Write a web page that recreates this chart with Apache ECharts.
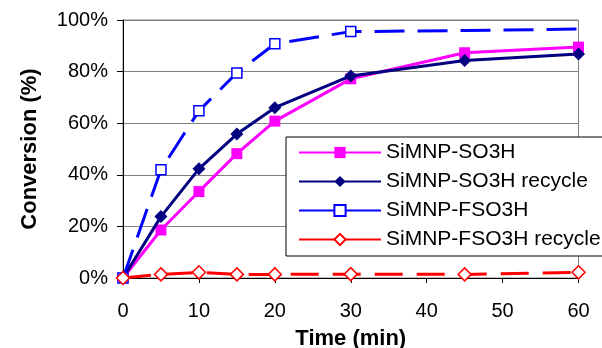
<!DOCTYPE html>
<html>
<head>
<meta charset="utf-8">
<script src="https://cdn.jsdelivr.net/npm/echarts@6/dist/echarts.min.js"></script>
<style>html,body{margin:0;padding:0;background:#fff;}#c{width:602px;height:348px;}</style>
</head>
<body>
<div id="c"></div>
<script>
var times = [0, 5, 10, 15, 20, 30, 45, 60];
var seriesNames = ['SiMNP-SO3H', 'SiMNP-SO3H recycle', 'SiMNP-FSO3H', 'SiMNP-FSO3H recycle'];
var so3h = [0, 18.6, 33.5, 48.2, 60.8, 77.2, 87.3, 89.5];
var so3hRecycle = [0, 23.8, 42.3, 55.8, 66.0, 78.3, 84.3, 86.8];
var fso3h = [0, 42.0, 64.8, 79.5, 90.8, 95.5, 95.9, 96.5];
var fso3hMarker = [true, true, true, true, true, true, false, false];
var fso3hRecycle = [0, 1.4, 2.2, 1.4, 1.4, 1.5, 1.4, 2.2];
var yTicks = [0, 20, 40, 60, 80, 100];
var xTicks = [0, 10, 20, 30, 40, 50, 60];

function pairs(vals, marks) {
  return times.map(function (t, i) {
    var d = { value: [t, vals[i]] };
    if (marks && !marks[i]) d.symbol = 'none';
    return d;
  });
}
var font = 'Liberation Sans, Arial, sans-serif';
var chart = echarts.init(document.getElementById('c'), null, { renderer: 'canvas' });
chart.setOption({
  animation: false,
  backgroundColor: '#fff',
  textStyle: { fontFamily: font },
  grid: { left: 123, right: 23.5, top: 20, bottom: 70, show: true, borderColor: '#808080', borderWidth: 1,
          containLabel: false, outerBoundsMode: 'none' },
  xAxis: {
    type: 'value', min: xTicks[0], max: xTicks[xTicks.length - 1], interval: 10,
    name: 'Time (min)', nameLocation: 'middle', nameGap: 50,
    nameTextStyle: { fontSize: 22, fontWeight: 'bold', color: '#000', fontFamily: font },
    axisLine: { lineStyle: { color: '#000', width: 1 } },
    axisTick: { show: true, length: 5, lineStyle: { color: '#000' } },
    axisLabel: { fontSize: 20, color: '#000', margin: 23, fontFamily: font },
    splitLine: { show: false }
  },
  yAxis: {
    type: 'value', min: yTicks[0], max: yTicks[yTicks.length - 1], interval: 20,
    name: 'Conversion (%)', nameLocation: 'middle', nameGap: 82, nameRotate: 90,
    nameTextStyle: { fontSize: 22, fontWeight: 'bold', color: '#000', fontFamily: font },
    axisLine: { show: true, lineStyle: { color: '#000', width: 1 } },
    axisTick: { show: true, length: 6, lineStyle: { color: '#000' } },
    axisLabel: { fontSize: 20, color: '#000', margin: 15, formatter: '{value}%', fontFamily: font },
    splitLine: { show: true, lineStyle: { color: '#808080', width: 1 } }
  },
  legend: {
    orient: 'vertical', left: 286, top: 137,
    padding: [5, 60, 6, 12], itemGap: 8, itemWidth: 82, itemHeight: 14,
    backgroundColor: '#fff', borderColor: '#000', borderWidth: 1,
    lineStyle: { type: 'solid' },
    textStyle: { fontSize: 21, color: '#000', fontFamily: font },
    data: seriesNames
  },
  series: [
    {
      name: seriesNames[0], type: 'line', data: pairs(so3h),
      symbol: 'rect', symbolSize: 11, z: 3,
      lineStyle: { color: '#FF00FF', width: 3 },
      itemStyle: { color: '#FF00FF' }
    },
    {
      name: seriesNames[1], type: 'line', data: pairs(so3hRecycle),
      symbol: 'diamond', symbolSize: 13, z: 4,
      lineStyle: { color: '#000080', width: 3 },
      itemStyle: { color: '#000080' }
    },
    {
      name: seriesNames[2], type: 'line', data: pairs(fso3h, fso3hMarker),
      symbol: 'rect', symbolSize: 10, z: 5,
      lineStyle: { color: '#0000FF', width: 3, type: [30, 13] },
      itemStyle: { color: '#fff', borderColor: '#0000FF', borderWidth: 1.5 }
    },
    {
      name: seriesNames[3], type: 'line', data: pairs(fso3hRecycle),
      symbol: 'diamond', symbolSize: 13, z: 6,
      lineStyle: { color: '#FF0000', width: 3, type: [28, 14] },
      itemStyle: { color: '#fff', borderColor: '#FF0000', borderWidth: 1.5 }
    }
  ]
});
</script>
</body>
</html>
